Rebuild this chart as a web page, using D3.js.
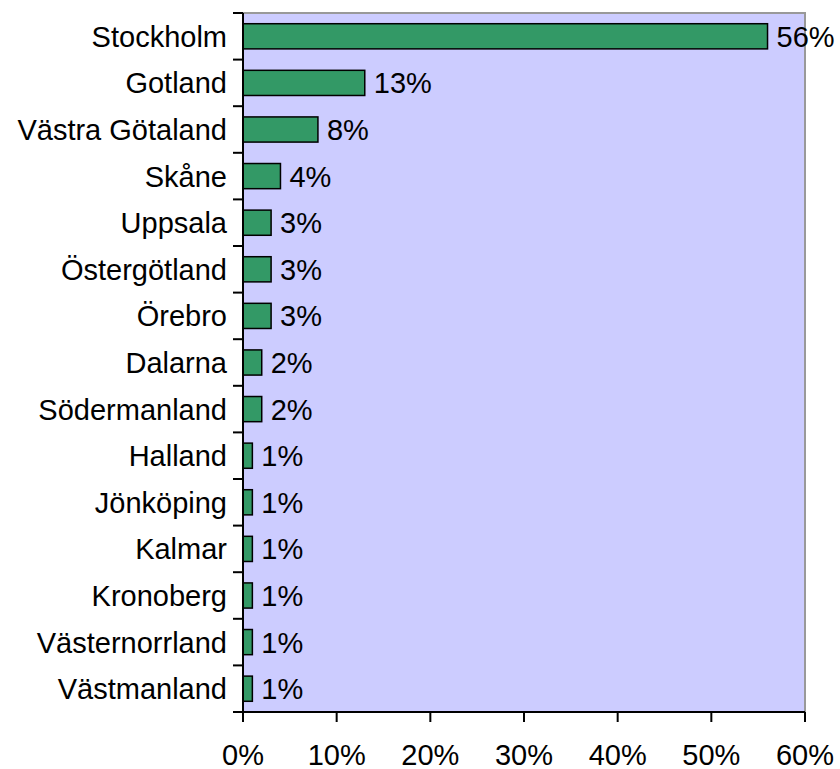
<!DOCTYPE html>
<html>
<head>
<meta charset="utf-8">
<script src="https://cdn.jsdelivr.net/npm/d3@7/dist/d3.min.js"></script>
<style>
  body { margin: 0; background: #fff; }
  text { font-family: "Liberation Sans", Arial, sans-serif; fill: #000; }
</style>
</head>
<body>
<svg id="chart" width="840" height="769"></svg>
<script>
var regions = ['Stockholm', 'Gotland', 'Västra Götaland', 'Skåne', 'Uppsala',
               'Östergötland', 'Örebro', 'Dalarna', 'Södermanland', 'Halland',
               'Jönköping', 'Kalmar', 'Kronoberg', 'Västernorrland', 'Västmanland']
var shares = [56, 13, 8, 4, 3, 3, 3, 2, 2, 1, 1, 1, 1, 1, 1]
var xTicks = [0, 10, 20, 30, 40, 50, 60]

// note: "top" is reserved on window, so use plot* names
var plotLeft = 243, plotRight = 805, plotTop = 13, plotBottom = 712
var fontSize = 29

var svg = d3.select('#chart')

var x = d3.scaleLinear().domain([0, 60]).range([plotLeft, plotRight])
var y = d3.scaleBand().domain(regions).range([plotTop, plotBottom]).paddingInner(0.46).paddingOuter(0.23)

// plot background
svg.append('rect')
    .attr('x', plotLeft).attr('y', plotTop)
    .attr('width', plotRight - plotLeft).attr('height', plotBottom - plotTop)
    .attr('fill', '#ccccff')

// grey frame on top and right
svg.append('path')
    .attr('d', 'M' + plotLeft + ',' + plotTop + 'H' + plotRight + 'V' + plotBottom)
    .attr('fill', 'none')
    .attr('stroke', '#999999')
    .attr('stroke-width', 2)

svg.selectAll('rect.bar')
    .data(shares)
    .enter()
    .append('rect')
    .attr('class', 'bar')
    .attr('x', x(0))
    .attr('y', function(d, i) {return y(regions[i]);})
    .attr('width', function(d) {return x(d) - x(0);})
    .attr('height', y.bandwidth())
    .attr('fill', '#339966')
    .attr('stroke', '#000')
    .attr('stroke-width', 1.5)

svg.selectAll('text.val')
    .data(shares)
    .enter()
    .append('text')
    .attr('class', 'val')
    .attr('x', function(d) {return x(d) + 9;})
    .attr('y', function(d, i) {return y(regions[i]) + y.bandwidth() / 2;})
    .attr('dy', '0.36em')
    .attr('font-size', fontSize)
    .text(function(d) {return d + '%';})

// y axis with ticks between categories
var yAxis = svg.append('g')
var bounds = d3.range(regions.length + 1).map(function(i) {return plotTop + i * (plotBottom - plotTop) / regions.length;})
yAxis.append('line')
    .attr('x1', plotLeft).attr('x2', plotLeft)
    .attr('y1', plotTop).attr('y2', plotBottom)
    .attr('stroke', '#000').attr('stroke-width', 2)
yAxis.selectAll('line.tk')
    .data(bounds)
    .enter()
    .append('line')
    .attr('class', 'tk')
    .attr('x1', plotLeft - 10).attr('x2', plotLeft)
    .attr('y1', function(d) {return d;})
    .attr('y2', function(d) {return d;})
    .attr('stroke', '#000').attr('stroke-width', 2)
yAxis.selectAll('text')
    .data(regions)
    .enter()
    .append('text')
    .attr('x', plotLeft - 16)
    .attr('y', function(d) {return y(d) + y.bandwidth() / 2;})
    .attr('dy', '0.36em')
    .attr('text-anchor', 'end')
    .attr('font-size', fontSize)
    .text(function(d) {return d;})

// x axis
var xAxis = svg.append('g')
xAxis.append('line')
    .attr('x1', plotLeft).attr('x2', plotRight)
    .attr('y1', plotBottom).attr('y2', plotBottom)
    .attr('stroke', '#000').attr('stroke-width', 2)
xAxis.selectAll('line.tk')
    .data(xTicks)
    .enter()
    .append('line')
    .attr('class', 'tk')
    .attr('x1', function(d) {return x(d);})
    .attr('x2', function(d) {return x(d);})
    .attr('y1', plotBottom).attr('y2', plotBottom + 10)
    .attr('stroke', '#000').attr('stroke-width', 2)
xAxis.selectAll('text')
    .data(xTicks)
    .enter()
    .append('text')
    .attr('x', function(d) {return x(d);})
    .attr('y', 765)
    .attr('text-anchor', 'middle')
    .attr('font-size', fontSize)
    .text(function(d) {return d + '%';})
</script>
</body>
</html>
